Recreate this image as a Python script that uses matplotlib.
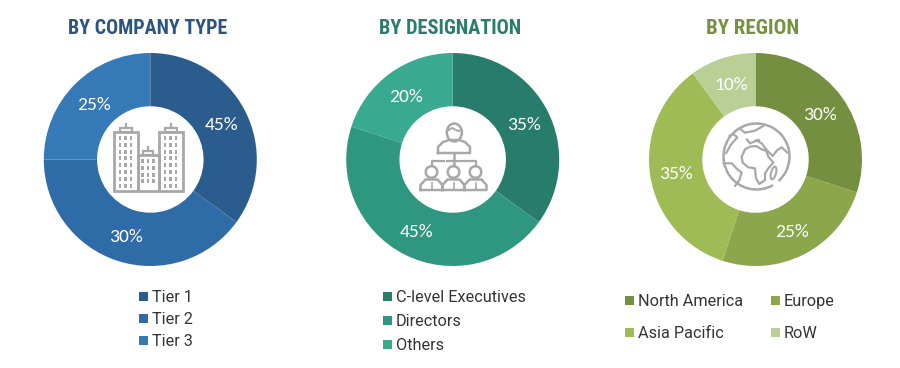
import numpy as np
import matplotlib
matplotlib.use('Agg')
import matplotlib.pyplot as plt
from matplotlib.patches import Circle, Ellipse, Rectangle, Arc

plt.rcParams['font.family'] = ['Carlito', 'Lato', 'DejaVu Sans']

titles = ['BY COMPANY TYPE', 'BY DESIGNATION', 'BY REGION']

# wedge sizes as drawn; the first donut's angles differ from its printed labels
company_sizes = [35, 40, 25]
company_labels = ['45%', '30%', '25%']
company_names = ['Tier 1', 'Tier 2', 'Tier 3']
company_colors = ['#2b5c8e', '#2f6ba6', '#3679b7']

designation_sizes = [35, 45, 20]
designation_labels = ['35%', '45%', '20%']
designation_names = ['C-level Executives', 'Directors', 'Others']
designation_colors = ['#287c6c', '#2f9680', '#39a98f']

region_sizes = [30, 25, 35, 10]
region_labels = ['30%', '25%', '35%', '10%']
region_names = ['North America', 'Europe', 'Asia Pacific', 'RoW']
region_colors = ['#748f3f', '#8ba64b', '#9fbb55', '#b9cf95']

title_colors = ['#2a5583', '#2b7c6c', '#76913f']

W, H = 900, 368
R = 106.5
fig = plt.figure(figsize=(W / 100, H / 100), dpi=100)

# one full size layer in pixel coords for text and icons
top = fig.add_axes([0, 0, 1, 1], zorder=5)
top.set_xlim(0, W)
top.set_ylim(H, 0)
top.axis('off')
top.patch.set_alpha(0)


def donut(cx, cy, sizes, colors):
    ax = fig.add_axes([(cx - R) / W, 1 - (cy + R) / H, 2 * R / W, 2 * R / H])
    ax.pie(sizes, colors=colors, startangle=90, counterclock=False,
           radius=1, wedgeprops={'width': 0.5, 'linewidth': 0})
    ax.set_xlim(-1, 1)
    ax.set_ylim(-1, 1)


def percent_labels(labels, spots):
    for s, (x, y) in zip(labels, spots):
        top.text(x, y + 1, s, color='white', fontsize=14, ha='center', va='center')


def legend_row(x, y, name, color, fs=11.7):
    top.add_patch(Rectangle((x, y - 4.5), 9, 9, color=color, lw=0))
    top.text(x + 13, y + 1.5, name, color='#333333', fontsize=fs, ha='left', va='center',
             family=['Roboto', 'DejaVu Sans'])


donut(150.3, 159.5, company_sizes, company_colors)
donut(452.7, 159.5, designation_sizes, designation_colors)
donut(755.5, 159.5, region_sizes, region_colors)

for x, s, c, fs in zip([148, 450, 753], titles, title_colors, [14.4, 14.7, 15]):
    top.text(x, 28, s, color=c, fontsize=fs, fontweight='bold', ha='center', va='center',
             family=['Roboto Condensed', 'Liberation Sans Narrow', 'Liberation Sans'])

percent_labels(company_labels, [(221.7, 124), (125.7, 236), (94, 104)])
percent_labels(designation_labels, [(524, 124), (416.3, 231), (405.7, 95.5)])
percent_labels(region_labels, [(820, 113.5), (791.7, 231), (676, 172.7), (731, 84)])

for y, n, c in zip([296, 318, 340], company_names, company_colors):
    legend_row(139, y, n, c)
for y, n, c in zip([296, 320, 344], designation_names, designation_colors):
    legend_row(383, y, n, c)
legend_row(625, 300, region_names[0], region_colors[0])
legend_row(771, 300, region_names[1], region_colors[1])
legend_row(625, 332, region_names[2], region_colors[2])
legend_row(771, 332, region_names[3], region_colors[3])

gray = '#a8a8a8'

# buildings icon
for x0, x1, y0 in [(113.5, 137.5, 132), (158.5, 182.5, 132), (137.5, 158.5, 155)]:
    top.add_patch(Rectangle((x0, y0), x1 - x0, 191 - y0, fill=False, ec=gray, lw=2))
    mid = (x0 + x1) / 2
    hw = (x1 - x0) / 4
    top.add_patch(Rectangle((mid - hw, y0 - 4.5), 2 * hw, 4.5, fill=False, ec=gray, lw=1.6))
    top.plot([mid, mid], [y0 - 4.5, y0 - 8], color=gray, lw=1.6)
    for wy in np.arange(y0 + 6, 188, 6.8):
        for wx in [mid - 5.5, mid, mid + 5.5]:
            top.add_patch(Rectangle((wx - 1.2, wy - 2), 2.4, 4, color=gray, lw=0))

# people icon
top.add_patch(Ellipse((454.3, 132.5), 15, 18, fill=False, ec=gray, lw=1.8))
top.plot([447, 452, 458, 461.5], [131, 128, 131, 130], color=gray, lw=1.4)
top.plot([438, 438, 443, 449, 459, 465, 470, 470, 438],
         [153, 147, 142, 140, 140, 142, 147, 153, 153], color=gray, lw=1.8)
top.plot([454.3, 454.3], [153, 165], color=gray, lw=1.8)
top.plot([431.5, 431.5, 444], [165, 160.5, 160.5], color=gray, lw=1.6)
top.plot([447, 449], [160.5, 160.5], color=gray, lw=1.6)
top.plot([451, 476, 476], [160.5, 160.5, 165], color=gray, lw=1.6)
for px in [431.5, 453.5, 475.5]:
    top.add_patch(Circle((px, 172), 5.8, fill=False, ec=gray, lw=1.8))
    top.plot([px - 11, px - 11, px - 6, px + 6, px + 11, px + 11, px - 11],
             [190, 185, 179.5, 179.5, 185, 190, 190], color=gray, lw=1.8)
    top.plot([px, px], [183, 190], color=gray, lw=1.2)

# globe icon, outlines in 3x zoom coords
def zoomline(points, lw=1.6):
    pts = np.array(points, dtype=float)
    top.plot(700 + pts[:, 0] / 3, 110 + pts[:, 1] / 3, color=gray, lw=lw,
             solid_joinstyle='round', solid_capstyle='round')


top.add_patch(Arc((756.5, 156.5), 66, 66, theta1=60, theta2=48, ec=gray, lw=1.8))
zoomline([(125, 140), (135, 118), (150, 110), (168, 108), (185, 118), (198, 122), (205, 140),
          (220, 158), (205, 175), (195, 190), (195, 210), (178, 222), (168, 205), (165, 175),
          (145, 172), (128, 158), (125, 140)])
zoomline([(140, 88), (150, 100), (170, 92), (185, 100), (200, 120), (218, 138), (232, 120),
          (245, 112), (262, 128)])
zoomline([(122, 58), (135, 68), (165, 62), (190, 48)])
zoomline([(70, 160), (95, 160), (112, 178), (125, 188), (118, 210), (105, 228)])
zoomline([(78, 130), (92, 105), (112, 82), (100, 72), (88, 78)])
zoomline([(165, 92), (178, 90)])
top.add_patch(Ellipse((773.5, 173), 5, 13, angle=15, fill=False, ec=gray, lw=1.5))

fig.savefig('out.png', dpi=100)
